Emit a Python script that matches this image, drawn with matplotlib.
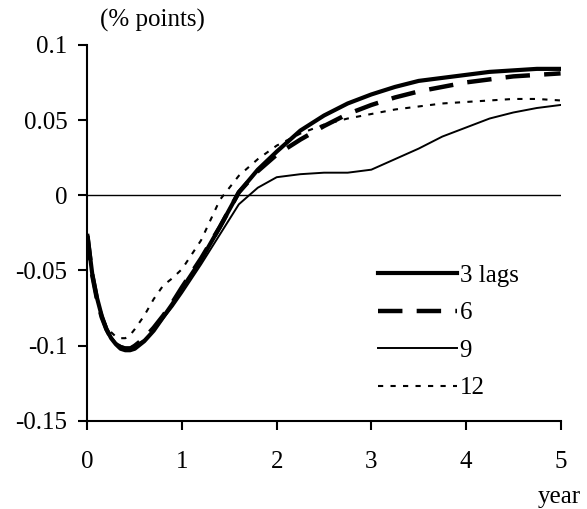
import matplotlib
matplotlib.use('Agg')
import matplotlib.pyplot as plt

plt.rcParams['font.family'] = ['Liberation Serif', 'DejaVu Serif']

# horizon in years
years = [0, 0.05, 0.1, 0.15, 0.2, 0.25, 0.3, 0.35, 0.4, 0.45, 0.5,
         0.6, 0.7, 0.8, 0.9, 1.0, 1.2, 1.4, 1.6, 1.8, 2.0,
         2.25, 2.5, 2.75, 3.0, 3.25, 3.5, 3.75, 4.0, 4.25, 4.5, 4.75, 5.0]

lags3 = [-0.027, -0.052, -0.068, -0.080, -0.089, -0.095, -0.099, -0.102, -0.103, -0.103, -0.102,
         -0.097, -0.090, -0.081, -0.072, -0.062, -0.043, -0.021, 0.002, 0.017, 0.029,
         0.043, 0.053, 0.061, 0.067, 0.072, 0.076, 0.078, 0.080, 0.082, 0.083, 0.084, 0.084]
lags6 = [-0.027, -0.053, -0.069, -0.081, -0.089, -0.095, -0.099, -0.101, -0.102, -0.102, -0.100,
         -0.095, -0.088, -0.080, -0.071, -0.061, -0.042, -0.021, 0.002, 0.016, 0.027,
         0.037, 0.046, 0.054, 0.060, 0.065, 0.069, 0.072, 0.075, 0.077, 0.079, 0.080, 0.081]
lags9 = [-0.027, -0.052, -0.068, -0.080, -0.088, -0.094, -0.098, -0.100, -0.101, -0.101, -0.100,
         -0.096, -0.090, -0.082, -0.074, -0.065, -0.046, -0.026, -0.006, 0.005, 0.012,
         0.014, 0.015, 0.015, 0.017, 0.024, 0.031, 0.039, 0.045, 0.051, 0.055, 0.058, 0.060]
lags12 = [-0.027, -0.053, -0.069, -0.080, -0.087, -0.091, -0.094, -0.095, -0.095, -0.093, -0.089,
          -0.080, -0.069, -0.060, -0.055, -0.049, -0.030, -0.003, 0.013, 0.024, 0.033,
          0.041, 0.047, 0.051, 0.054, 0.057, 0.059, 0.061, 0.062, 0.063, 0.064, 0.064, 0.063]

labels = ['3 lags', '6', '9', '12']

fig = plt.figure(figsize=(5.87, 5.09), dpi=100)
ax = fig.add_axes([0.149, 0.173, 0.806, 0.739])

ax.axhline(0, color='black', linewidth=1.0)
ax.plot(years, lags3, color='black', linewidth=3.0, label=labels[0])
ax.plot(years, lags6, color='black', linewidth=3.2, dashes=(5.5, 3.2), label=labels[1])
ax.plot(years, lags9, color='black', linewidth=1.4, label=labels[2])
ax.plot(years, lags12, color='black', linewidth=1.5, dashes=(2.5, 3.5), label=labels[3])

ax.set_xlim(0, 5)
ax.set_ylim(-0.15, 0.1)
ax.set_xticks([0, 1, 2, 3, 4, 5])
ax.set_yticks([-0.15, -0.1, -0.05, 0, 0.05, 0.1])
ax.set_yticklabels(['-0.15', '-0.1', '-0.05', '0', '0.05', '0.1'])
ax.tick_params(labelsize=18, direction='out', length=6.5, width=1.5)
ax.tick_params(axis='x', pad=15)
ax.tick_params(axis='y', pad=8)
for s in ['top', 'right']:
    ax.spines[s].set_visible(False)
for s in ['left', 'bottom']:
    ax.spines[s].set_linewidth(1.5)

ax.legend(loc='upper left', bbox_to_anchor=(0.614, 0.416), frameon=False, fontsize=18,
          handlelength=3.15, handletextpad=0.12, labelspacing=0.6, borderaxespad=0,
          borderpad=0)

fig.text(0.170, 0.960, '(% points)', fontsize=18, ha='left', va='center')
fig.text(0.990, 0.023, 'year', fontsize=18, ha='right', va='center')

fig.savefig('out.png', dpi=100)
